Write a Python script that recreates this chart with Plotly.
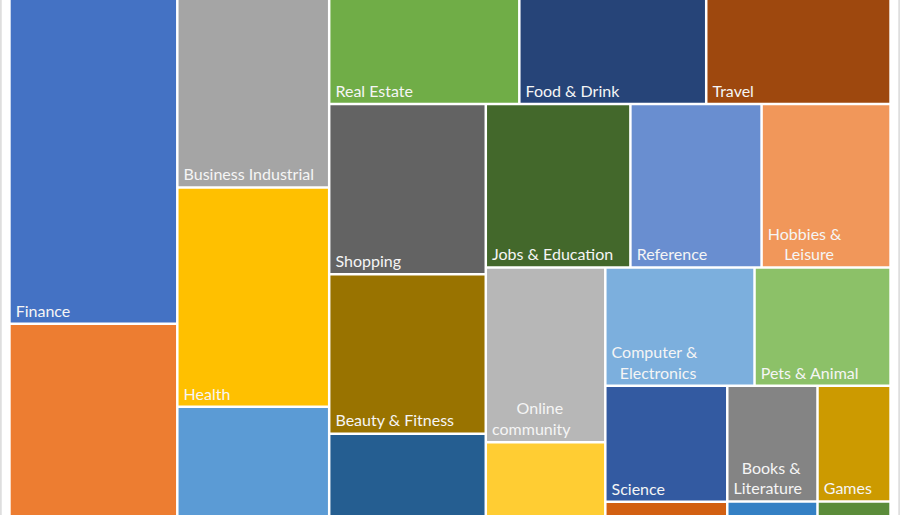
import plotly.graph_objects as go

# leaf categories (top-left to bottom-right) with visible-area based values
categories = [
    "Finance", "Arts & Entertainment",
    "Business Industrial", "Health", "Internet & Telecom",
    "Real Estate", "Food & Drink", "Travel",
    "Shopping", "Beauty & Fitness", "Autos & Vehicles",
    "Jobs & Education", "Reference", "Hobbies & Leisure",
    "Online community", "Home & Garden",
    "Computer & Electronics", "Pets & Animal",
    "Science", "People & Society",
    "Books & Literature", "Games",
    "Law & Government", "News",
]
values = [
    5456, 4657,
    2867, 3331, 2954,
    2001, 1967, 1940,
    2667, 2496, 2624,
    2366, 2146, 2110,
    2087, 1901,
    1764, 1608,
    1415, 1213,
    1045, 846,
    899, 728,
]
# labels as shown in the tiles (tiles cut off by the crop show none)
NB = "\u00a0"
TS = "\u2009"
display_labels = [
    "Finance", "",
    "Business Industrial", "Health", "",
    "Real Estate", "Food & Drink", "Travel",
    "Shopping", "Beauty & Fitness", "",
    "Jobs & Education", "Reference", "Hobbies &<br>" + NB * 4 + "Leisure",
    NB * 6 + "Online<br>community", "",
    "Computer &<br>" + NB * 2 + "Electronics", "Pets & Animal",
    "Science", "",
    NB * 2 + "Books &<br>Literature", "Games",
    "", "",
]
display_labels = ["<br>".join(TS + s for s in t.split("<br>")) if t else "" for t in display_labels]
colors = [
    "#4472C4", "#ED7D31",
    "#A5A5A5", "#FFC000", "#5B9BD5",
    "#70AD47", "#264478", "#9E480E",
    "#636363", "#997300", "#255E91",
    "#43682B", "#698ED0", "#F1975A",
    "#B7B7B7", "#FFCD33",
    "#7CAFDD", "#8CC168",
    "#335AA1", "#D26012",
    "#848484", "#CC9A00",
    "#3480C4", "#5B8C3A",
]
# grouping of tiles (strips of the layout)
groups = {
    "g1": "root", "g2": "root", "r1": "root",
    "gA": "r1", "r2": "r1",
    "gB": "r2", "r3": "r2",
    "gC": "r3", "r4": "r3",
    "gD": "r4", "r5": "r4",
    "gE": "r5", "r6": "r5",
    "gF": "r6", "r7": "r6",
    "gG": "r7", "gH": "r7",
}
leaf_group = [
    "g1", "g1",
    "g2", "g2", "g2",
    "gA", "gA", "gA",
    "gB", "gB", "gB",
    "gC", "gC", "gC",
    "gD", "gD",
    "gE", "gE",
    "gF", "gF",
    "gG", "gG",
    "gH", "gH",
]

ids = ["root"] + list(groups.keys()) + categories
parents = [""] + list(groups.values()) + leaf_group
vals = [0] * (1 + len(groups)) + values
texts = [""] * (1 + len(groups)) + display_labels
cols = ["white"] * (1 + len(groups)) + colors

fig = go.Figure(go.Treemap(
    ids=ids,
    labels=ids,
    parents=parents,
    values=vals,
    text=texts,
    textinfo="text",
    textposition="bottom left",
    textfont=dict(family="Lato", size=16, color="#F5F5F5"),
    marker=dict(colors=cols, line=dict(width=0),
                pad=dict(t=0, l=0, r=0, b=0), depthfade=False),
    tiling=dict(packing="slice-dice", pad=2.5),
    pathbar=dict(visible=False),
    sort=False,
    hoverinfo="label+value",
    domain=dict(x=[10.7 / 900, 889.3 / 900], y=[0, 1]),
))

# chart border on the sides
fig.add_shape(type="line", xref="paper", yref="paper", x0=0.001, x1=0.001, y0=0, y1=1,
              line=dict(color="#D9D9D9", width=1.5))
fig.add_shape(type="line", xref="paper", yref="paper", x0=0.999, x1=0.999, y0=0, y1=1,
              line=dict(color="#D9D9D9", width=1.5))

fig.update_layout(
    width=900,
    height=600,
    margin=dict(l=0, r=0, t=0, b=0),
    paper_bgcolor="white",
    showlegend=False,
)

fig.write_html(
    "out.html",
    config={"displayModeBar": False},
    post_script="document.body.style.margin='0';document.body.style.overflow='hidden';",
)
